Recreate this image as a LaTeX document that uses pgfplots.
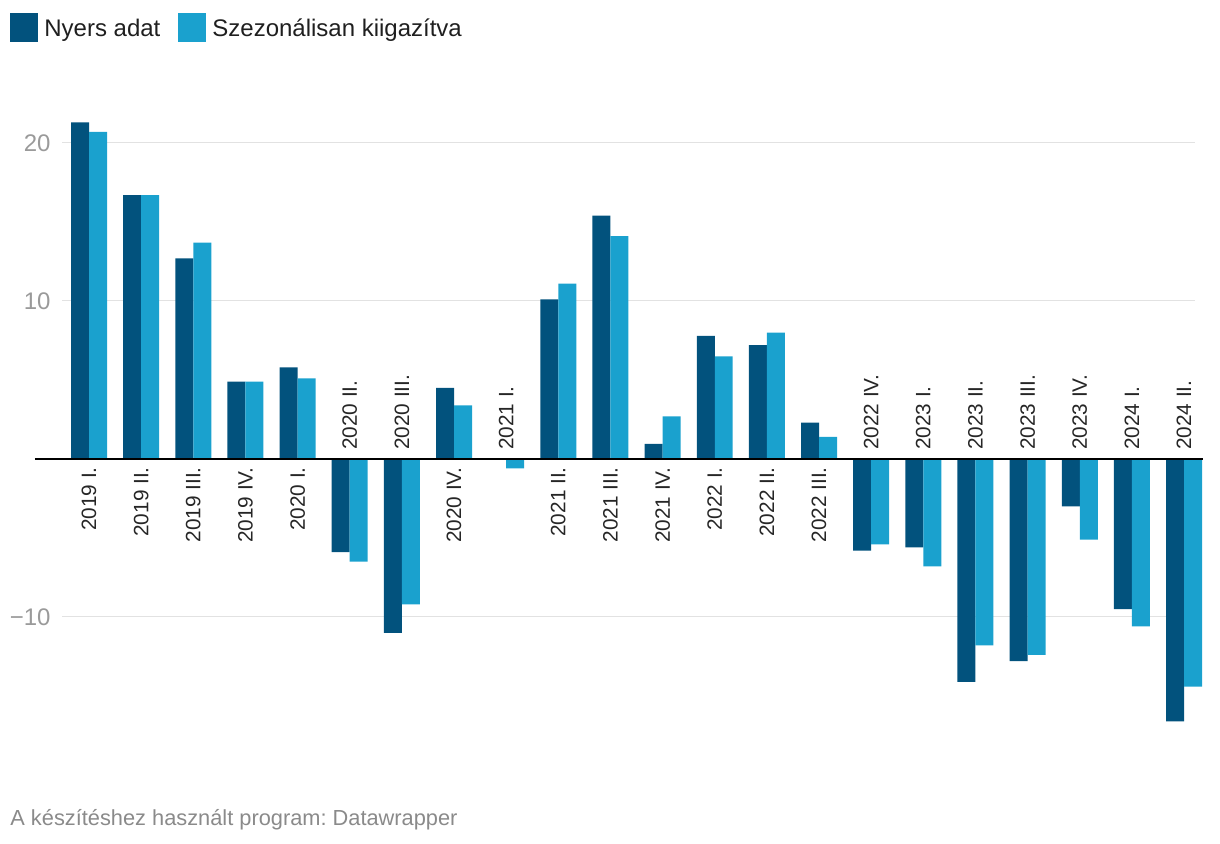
\documentclass[border=0pt]{standalone}
\usepackage{pgfplots}
\pgfplotsset{compat=1.18}
\usepackage{fontspec}
\setmainfont{Liberation Sans}
\frenchspacing
\definecolor{nyers}{HTML}{02527D}
\definecolor{szez}{HTML}{1AA1CE}
\definecolor{tickgray}{HTML}{9A9A9A}
\definecolor{footgray}{HTML}{8A8A8A}
\definecolor{gridgray}{HTML}{E2E2E2}
\tikzset{
  lblb/.style={rotate=90, anchor=east, inner sep=0pt, font=\fontsize{10.4}{12}\selectfont, text=black!85},
  lbla/.style={rotate=90, anchor=west, inner sep=0pt, font=\fontsize{10.4}{12}\selectfont, text=black!85},
}
\begin{document}
\begin{tikzpicture}
\path[use as bounding box] (0pt,0pt) rectangle (610pt,422pt);
\begin{axis}[
  at={(31pt,50.3pt)}, anchor=south west,
  scale only axis, width=566.5pt, height=323.9pt,
  xmin=-0.518, xmax=21.21, ymin=-18, ymax=23,
  axis line style={draw=none},
  major tick style={draw=none},
  xtick=\empty,
  ytick={-10,10,20},
  yticklabels={−10,10,20},
  yticklabel style={font=\fontsize{12}{14}\selectfont, text=tickgray, inner sep=0pt, xshift=-5.5pt},
  ymajorgrids,
  grid style={gridgray, line width=0.5pt},
  clip=false,
  ybar, bar width=0.345,
]
\addplot[fill=nyers, draw=none, bar shift=-0.1725] coordinates {
(0,21.3) (1,16.7) (2,12.7) (3,4.9) (4,5.8) (5,-5.9) (6,-11.0) (7,4.5) (8,0) (9,10.1) (10,15.4)
(11,0.95) (12,7.8) (13,7.2) (14,2.3) (15,-5.8) (16,-5.6) (17,-14.1) (18,-12.8) (19,-3.0) (20,-9.5) (21,-16.6)};
\addplot[fill=szez, draw=none, bar shift=0.1725] coordinates {
(0,20.7) (1,16.7) (2,13.7) (3,4.9) (4,5.1) (5,-6.5) (6,-9.2) (7,3.4) (8,-0.6) (9,11.1) (10,14.1)
(11,2.7) (12,6.5) (13,8.0) (14,1.4) (15,-5.4) (16,-6.8) (17,-11.8) (18,-12.4) (19,-5.1) (20,-10.6) (21,-14.4)};
\draw[black, line width=1pt] (axis cs:-1.036,0) -- (axis cs:21.366,0);
\node[lblb] at (axis cs:0,-0.5) {2019 I.};
\node[lblb] at (axis cs:1,-0.5) {2019 II.};
\node[lblb] at (axis cs:2,-0.5) {2019 III.};
\node[lblb] at (axis cs:3,-0.5) {2019 IV.};
\node[lblb] at (axis cs:4,-0.5) {2020 I.};
\node[lbla] at (axis cs:5,0.55) {2020 II.};
\node[lbla] at (axis cs:6,0.55) {2020 III.};
\node[lblb] at (axis cs:7,-0.5) {2020 IV.};
\node[lbla] at (axis cs:8,0.55) {2021 I.};
\node[lblb] at (axis cs:9,-0.5) {2021 II.};
\node[lblb] at (axis cs:10,-0.5) {2021 III.};
\node[lblb] at (axis cs:11,-0.5) {2021 IV.};
\node[lblb] at (axis cs:12,-0.5) {2022 I.};
\node[lblb] at (axis cs:13,-0.5) {2022 II.};
\node[lblb] at (axis cs:14,-0.5) {2022 III.};
\node[lbla] at (axis cs:15,0.55) {2022 IV.};
\node[lbla] at (axis cs:16,0.55) {2023 I.};
\node[lbla] at (axis cs:17,0.55) {2023 II.};
\node[lbla] at (axis cs:18,0.55) {2023 III.};
\node[lbla] at (axis cs:19,0.55) {2023 IV.};
\node[lbla] at (axis cs:20,0.55) {2024 I.};
\node[lbla] at (axis cs:21,0.55) {2024 II.};
\end{axis}
% legend
\fill[nyers] (5pt,401pt) rectangle (19pt,415.5pt);
\node[anchor=west, inner sep=0pt, font=\fontsize{12}{14}\selectfont, text=black!88] at (22pt,407pt) {Nyers adat};
\fill[szez] (89pt,401pt) rectangle (103pt,415.5pt);
\node[anchor=west, inner sep=0pt, font=\fontsize{12}{14}\selectfont, text=black!88] at (106pt,407pt) {Szezonálisan kiigazítva};
% footer
\node[anchor=base west, inner sep=0pt, font=\fontsize{10.9}{13}\selectfont, text=footgray] at (5pt,9pt) {A készítéshez használt program: Datawrapper};
\end{tikzpicture}
\end{document}
